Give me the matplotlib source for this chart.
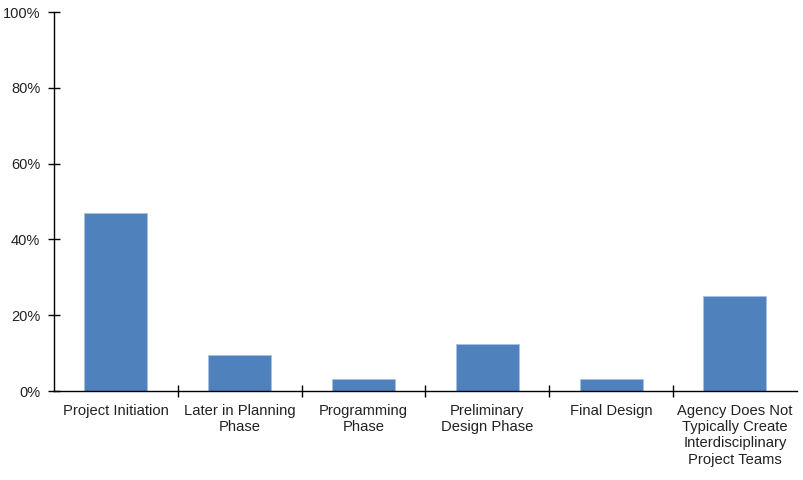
import matplotlib.pyplot as plt
from matplotlib.ticker import PercentFormatter, FixedLocator
import numpy as np

plt.rcParams['font.family'] = ['Liberation Sans', 'DejaVu Sans']

kategorijos = ['Project Initiation', 'Later in Planning\nPhase', 'Programming\nPhase',
               'Preliminary\nDesign Phase', 'Final Design',
               'Agency Does Not\nTypically Create\nInterdisciplinary\nProject Teams']
reiksmes = [46.9, 9.4, 3.1, 12.5, 3.1, 25.0]

fig = plt.figure(figsize=(8.04, 4.8), dpi=100)
ax = fig.add_axes([0.0672, 0.1854, 0.9238, 0.7896])

x = np.arange(len(kategorijos))
ax.bar(x, reiksmes, width=0.51, color='#4F81BD', edgecolor='#A9C1E0', linewidth=0.5)

ax.set_xlim(-0.5, len(kategorijos) - 0.5)
ax.set_ylim(0, 100)
ax.set_yticks(np.arange(0, 101, 20))
ax.yaxis.set_major_formatter(PercentFormatter(decimals=0))

ax.set_xticks(x)
ax.set_xticklabels(kategorijos, fontsize=10.6, color='#222222', linespacing=1.22, va='top')
ax.tick_params(axis='x', which='major', length=0, pad=9)
ax.xaxis.set_minor_locator(FixedLocator(x[1:] - 0.5))
ax.tick_params(axis='x', which='minor', direction='inout', length=8, width=1)
ax.tick_params(axis='y', direction='inout', length=8, width=1, labelsize=10.5,
               labelcolor='#222222', pad=6)

for s in ['top', 'right']:
    ax.spines[s].set_visible(False)
ax.spines['left'].set_linewidth(1)
ax.spines['bottom'].set_linewidth(1)

fig.savefig('out.png', dpi=100)
